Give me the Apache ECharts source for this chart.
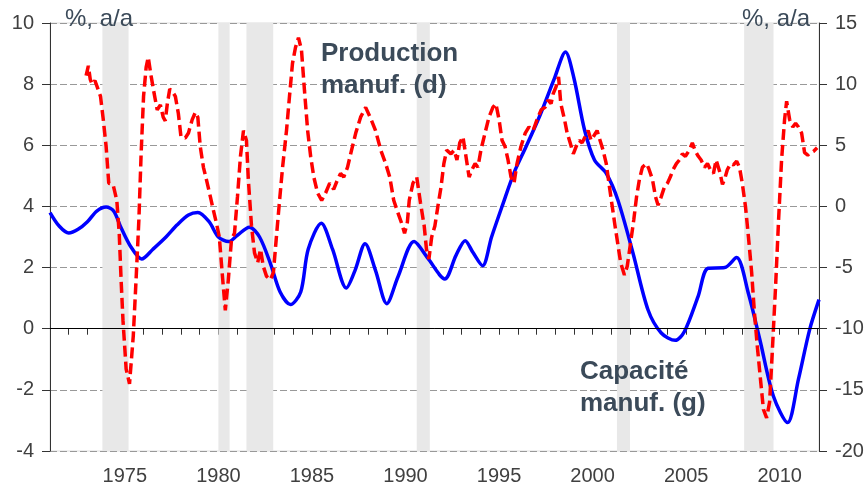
<!DOCTYPE html>
<html lang="fr">
<head>
<meta charset="UTF-8">
<title>Capacité et production manufacturières</title>
<script src="https://cdn.jsdelivr.net/npm/echarts@6/dist/echarts.min.js"></script>
<style>
    body { margin: 0; background: #fff; }
    #chart { width: 868px; height: 486px; }
</style>
</head>
<body>
<div id="chart"></div>
<script>
// capacité manuf., % a/a (axe gauche)
const capYears = [1971.0, 1971.5, 1972.0, 1972.5, 1973.0, 1973.5, 1974.0, 1974.4, 1974.8, 1975.3, 1975.9, 1976.5, 1977.2, 1977.8, 1978.4, 1978.9, 1979.5, 1980.0, 1980.55, 1981.0, 1981.66, 1982.2, 1982.8, 1983.3, 1983.85, 1984.4, 1984.8, 1985.5, 1986.1, 1986.84, 1987.3, 1987.84, 1988.4, 1989.0, 1989.6, 1990.46, 1991.2, 1992.1, 1992.7, 1993.19, 1993.6, 1994.12, 1994.6, 1995.19, 1995.8, 1996.44, 1997.2, 1997.96, 1998.55, 1999.0, 1999.57, 2000.1, 2000.73, 2001.35, 2002.16, 2002.96, 2003.67, 2004.42, 2004.9, 2005.64, 2006.17, 2007.06, 2007.69, 2008.32, 2008.94, 2009.66, 2010.42, 2011.0, 2011.6, 2012.1];
const capValues = [3.8, 3.35, 3.13, 3.25, 3.5, 3.85, 3.98, 3.85, 3.3, 2.7, 2.28, 2.6, 3.0, 3.4, 3.72, 3.8, 3.5, 3.0, 2.85, 3.05, 3.32, 3.0, 2.1, 1.2, 0.79, 1.2, 2.6, 3.45, 2.6, 1.33, 1.9, 2.78, 1.9, 0.82, 1.7, 2.85, 2.3, 1.63, 2.4, 2.88, 2.5, 2.06, 3.0, 4.05, 5.1, 5.95, 7.0, 8.19, 9.05, 8.2, 6.5, 5.52, 5.08, 4.21, 2.47, 0.62, -0.14, -0.38, -0.1, 1.06, 1.98, 2.0, 2.33, 1.17, -0.36, -2.2, -3.07, -1.66, -0.03, 0.95];

// production manuf., % a/a (axe droit)
const prodYears = [1972.93, 1973.05, 1973.15, 1973.25, 1973.4, 1973.5, 1973.7, 1973.84, 1974.0, 1974.14, 1974.37, 1974.57, 1974.7, 1974.8, 1974.9, 1975.07, 1975.25, 1975.45, 1975.6, 1975.75, 1975.87, 1976.0, 1976.14, 1976.25, 1976.4, 1976.57, 1976.73, 1976.9, 1977.05, 1977.16, 1977.27, 1977.4, 1977.54, 1977.7, 1977.78, 1977.86, 1978.0, 1978.23, 1978.4, 1978.6, 1978.77, 1978.9, 1979.03, 1979.2, 1979.36, 1979.57, 1979.73, 1979.9, 1980.05, 1980.2, 1980.37, 1980.53, 1980.7, 1980.86, 1981.02, 1981.18, 1981.34, 1981.5, 1981.6, 1981.77, 1981.93, 1982.1, 1982.25, 1982.4, 1982.57, 1982.78, 1982.94, 1983.1, 1983.27, 1983.43, 1983.64, 1983.8, 1983.96, 1984.12, 1984.28, 1984.44, 1984.6, 1984.77, 1984.93, 1985.1, 1985.3, 1985.52, 1985.73, 1985.95, 1986.16, 1986.37, 1986.53, 1986.7, 1986.9, 1987.07, 1987.34, 1987.6, 1987.87, 1988.14, 1988.4, 1988.68, 1988.94, 1989.16, 1989.37, 1989.59, 1989.8, 1989.95, 1990.1, 1990.2, 1990.4, 1990.6, 1990.8, 1991.0, 1991.12, 1991.25, 1991.4, 1991.57, 1991.73, 1991.9, 1992.05, 1992.2, 1992.43, 1992.6, 1992.75, 1992.9, 1993.07, 1993.23, 1993.4, 1993.55, 1993.72, 1993.87, 1994.03, 1994.25, 1994.46, 1994.67, 1994.83, 1995.0, 1995.16, 1995.32, 1995.48, 1995.64, 1995.8, 1995.96, 1996.17, 1996.4, 1996.6, 1996.82, 1997.03, 1997.25, 1997.46, 1997.62, 1997.78, 1997.89, 1998.05, 1998.18, 1998.3, 1998.5, 1998.64, 1998.8, 1998.97, 1999.12, 1999.28, 1999.44, 1999.6, 1999.76, 1999.92, 2000.08, 2000.24, 2000.4, 2000.56, 2000.73, 2000.9, 2001.05, 2001.2, 2001.37, 2001.5, 2001.7, 2001.85, 2002.0, 2002.2, 2002.35, 2002.5, 2002.66, 2002.88, 2003.0, 2003.2, 2003.36, 2003.5, 2003.67, 2003.84, 2004.0, 2004.15, 2004.3, 2004.48, 2004.64, 2004.8, 2004.96, 2005.17, 2005.33, 2005.5, 2005.65, 2005.8, 2005.98, 2006.14, 2006.3, 2006.46, 2006.6, 2006.8, 2006.94, 2007.05, 2007.2, 2007.37, 2007.53, 2007.7, 2007.85, 2008.0, 2008.17, 2008.33, 2008.5, 2008.65, 2008.8, 2008.97, 2009.13, 2009.3, 2009.46, 2009.6, 2009.78, 2009.94, 2010.1, 2010.26, 2010.37, 2010.53, 2010.7, 2010.85, 2011.0, 2011.17, 2011.33, 2011.5, 2011.65, 2011.8, 2012.0];
const prodValues = [10.7, 11.5, 10.4, 10.0, 10.3, 10.2, 9.0, 7.2, 4.9, 1.9, 1.8, 0.5, -2.2, -6.0, -9.3, -13.3, -14.5, -10.6, -6.0, -1.1, 4.3, 9.0, 11.4, 12.2, 10.7, 9.2, 7.9, 8.3, 7.3, 7.0, 8.4, 9.6, 9.4, 9.0, 9.1, 7.6, 5.7, 5.6, 6.0, 7.1, 7.7, 7.3, 4.9, 3.2, 2.2, 0.8, -0.3, -1.4, -2.5, -5.4, -8.5, -6.0, -2.7, -2.2, 0.8, 4.1, 6.2, 5.4, 2.2, -1.6, -3.8, -4.6, -3.5, -4.9, -5.7, -6.0, -5.4, -2.5, 0.5, 3.2, 6.2, 9.0, 11.7, 13.0, 13.8, 12.8, 9.5, 6.2, 4.1, 2.4, 1.1, 0.5, 1.1, 1.9, 1.4, 2.2, 2.7, 2.4, 3.2, 4.3, 6.0, 7.3, 8.1, 7.2, 6.2, 4.6, 3.5, 2.4, 0.5, -0.5, -1.4, -2.2, -1.3, 0.5, 1.9, 2.4, 0.3, -1.6, -3.5, -4.3, -2.5, -1.6, 0.0, 1.6, 3.5, 4.6, 4.3, 4.6, 3.8, 5.2, 5.7, 4.1, 2.4, 3.0, 3.5, 3.2, 4.6, 6.0, 7.3, 8.1, 8.4, 7.1, 5.4, 4.9, 3.8, 2.4, 1.9, 3.5, 4.9, 6.0, 6.5, 6.2, 7.1, 7.9, 8.1, 8.7, 8.4, 9.2, 9.8, 10.6, 8.4, 7.1, 6.0, 5.2, 4.3, 4.9, 5.4, 5.2, 5.7, 6.2, 5.4, 5.8, 6.2, 5.4, 4.6, 3.5, 1.6, 0.0, -1.6, -3.3, -4.6, -5.6, -4.9, -3.3, -1.1, 0.8, 2.2, 3.2, 3.5, 3.1, 2.2, 0.8, 0.1, 0.8, 1.6, 1.9, 2.4, 3.0, 3.5, 3.8, 4.3, 4.1, 4.6, 5.2, 4.5, 4.1, 3.8, 3.2, 3.5, 3.0, 2.7, 3.8, 2.8, 1.8, 2.2, 3.0, 3.5, 3.4, 3.7, 3.2, 1.9, 0.0, -2.5, -5.4, -8.7, -11.4, -14.1, -16.6, -17.3, -16.0, -12.0, -6.5, -1.1, 3.8, 7.1, 8.6, 7.1, 6.5, 6.8, 6.5, 6.0, 4.4, 4.2, 4.4, 4.5, 4.8];

// récessions (zones grises)
const recStart = [1973.8, 1980.0, 1981.5, 1990.6, 2001.3, 2008.1];
const recEnd = [1975.2, 1980.6, 1982.93, 1991.3, 2002.0, 2009.67];

const yearTicks = [];
for (let y = 1971; y <= 2012; y++) yearTicks.push(y);
const yearLabels = [1975, 1980, 1985, 1990, 1995, 2000, 2005, 2010];

const textColor = '#3b4a59';
const labelFont = { color: '#404040', fontSize: 20, fontFamily: 'Liberation Sans' };

var chart = echarts.init(document.getElementById('chart'));

var option = {
    animation: false,
    grid: {
        left: 50, right: 49, top: 23, bottom: 34,
        show: true, borderColor: '#dddddd', borderWidth: 1
    },
    xAxis: {
        type: 'value',
        min: 1971,
        max: 2012.1,
        axisLine: { lineStyle: { color: '#333', width: 1 } },
        axisTick: { customValues: yearTicks, length: 6, lineStyle: { color: '#333' } },
        axisLabel: Object.assign({ customValues: yearLabels, margin: 15, formatter: v => String(Math.round(v)) }, labelFont),
        splitLine: { show: false }
    },
    yAxis: [
        {
            type: 'value', min: -4, max: 10, interval: 2,
            axisLine: { show: true, lineStyle: { color: '#333' } },
            axisTick: { show: true, length: 8, lineStyle: { color: '#333' } },
            axisLabel: Object.assign({ margin: 16 }, labelFont),
            splitLine: { show: true, lineStyle: { color: '#999', type: [7, 3], width: 1 } }
        },
        {
            type: 'value', min: -20, max: 15, interval: 5,
            axisLine: { show: true, lineStyle: { color: '#333' } },
            axisTick: { show: true, length: 8, lineStyle: { color: '#333' } },
            axisLabel: Object.assign({ margin: 16 }, labelFont),
            splitLine: { show: false }
        }
    ],
    graphic: [
        { type: 'text', z: 100, left: 65, top: 7, style: { text: '%, a/a', fill: textColor, font: '24px "Liberation Sans"' } },
        { type: 'text', z: 100, right: 58, top: 7, style: { text: '%, a/a', fill: textColor, font: '24px "Liberation Sans"' } },
        { type: 'text', z: 100, left: 321, top: 38, style: { text: 'Production\nmanuf. (d)', fill: textColor, font: 'bold 26px "Liberation Sans"', lineHeight: 32 } },
        { type: 'text', z: 100, left: 580, top: 356, style: { text: 'Capacité\nmanuf. (g)', fill: textColor, font: 'bold 26px "Liberation Sans"', lineHeight: 32 } }
    ],
    series: [
        {
            name: 'récessions',
            type: 'line',
            data: [],
            z: 1,
            silent: true,
            markArea: {
                silent: true,
                itemStyle: { color: '#e8e8e8' },
                data: recStart.map((s, i) => [{ xAxis: s }, { xAxis: recEnd[i] }])
            },
            markLine: {
                silent: true,
                symbol: 'none',
                label: { show: false },
                lineStyle: { color: '#000', type: 'solid', width: 1 },
                data: [{ yAxis: 0 }]
            }
        },
        {
            name: 'Capacité manuf. (g)',
            type: 'line',
            yAxisIndex: 0,
            z: 3,
            smooth: 0.3,
            showSymbol: false,
            lineStyle: { color: '#0000ff', width: 3.5 },
            data: capYears.map((y, i) => [y, capValues[i]])
        },
        {
            name: 'Production manuf. (d)',
            type: 'line',
            yAxisIndex: 1,
            z: 4,
            showSymbol: false,
            lineStyle: { color: '#ff0000', width: 3.5, type: [11, 5] },
            data: prodYears.map((y, i) => [y, prodValues[i]])
        }
    ]
};

option && chart.setOption(option);
</script>
</body>
</html>
